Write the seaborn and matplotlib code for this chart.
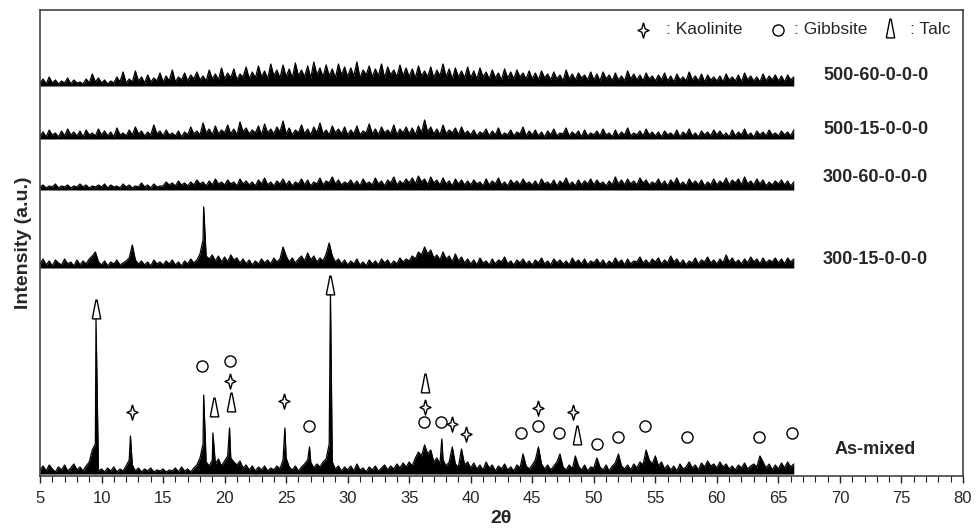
import numpy as np
import pandas as pd
import matplotlib
matplotlib.use("Agg")
import matplotlib.pyplot as plt
import seaborn as sns

# ---------------------------------------------------------------- data
# Step-scan intensities (a.u., above each pattern's own baseline),
# 0.25 deg steps starting at 2theta = 5 deg, one row per 5 deg block.
SCAN_START, SCAN_STEP = 5.0, 0.25

as_mixed = [
    4, 8, 3, 9, 5, 2, 7, 4, 9, 3, 6, 10, 4, 7, 3, 8, 12, 24, 30, 3,
    5, 2, 6, 3, 7, 2, 5, 3, 8, 14, 9, 3, 6, 2, 5, 3, 6, 2, 4, 3,
    5, 2, 4, 3, 6, 2, 7, 3, 5, 2, 6, 9, 16, 30, 12, 8, 14, 10, 15, 8,
    13, 18, 16, 12, 9, 13, 6, 9, 4, 8, 3, 7, 4, 8, 3, 6, 4, 8, 5, 14,
    16, 7, 4, 8, 3, 7, 10, 14, 12, 6, 10, 7, 12, 15, 30, 12, 5, 8, 3, 7,
    4, 8, 3, 10, 4, 6, 2, 7, 4, 8, 3, 6, 9, 4, 8, 5, 10, 6, 11, 7,
    12, 8, 16, 22, 18, 29, 20, 24, 12, 16, 10, 14, 8, 12, 27, 10, 7, 25, 9, 12,
    6, 11, 5, 9, 4, 12, 6, 9, 3, 8, 5, 10, 4, 7, 3, 9, 6, 20, 8, 5,
    9, 14, 27, 10, 5, 9, 4, 8, 12, 20, 7, 4, 9, 5, 18, 8, 4, 9, 3, 7,
    6, 16, 7, 4, 9, 3, 8, 11, 20, 8, 5, 9, 4, 10, 6, 12, 9, 24, 14, 10,
    18, 8, 12, 5, 9, 4, 8, 3, 10, 5, 7, 12, 6, 9, 4, 11, 7, 13, 8, 10,
    6, 12, 7, 10, 5, 8, 4, 9, 6, 11, 5, 8, 10, 7, 18, 12, 6, 10, 4, 9,
    5, 11, 6, 12, 7, 10,
]
as_mixed_peak_pos = [9.55, 12.35, 18.3, 19.05, 20.4, 24.9, 26.9, 28.6, 37.65]
as_mixed_peak_int = [155, 38, 79, 41, 46, 46, 27, 181, 35]

s300_15 = [
    4, 9, 3, 7, 2, 8, 5, 3, 9, 4, 6, 2, 8, 3, 7, 4, 9, 12, 16, 6,
    3, 7, 2, 6, 4, 8, 3, 5, 7, 10, 23, 8, 4, 7, 3, 6, 2, 8, 4, 6,
    3, 7, 4, 8, 3, 6, 2, 7, 4, 9, 5, 8, 14, 28, 12, 9, 13, 7, 12, 6,
    11, 6, 13, 8, 10, 5, 9, 4, 8, 3, 7, 4, 9, 5, 8, 4, 10, 6, 9, 21,
    12, 6, 10, 5, 9, 12, 7, 15, 8, 12, 6, 10, 7, 14, 25, 12, 6, 9, 4, 8,
    3, 7, 4, 9, 3, 6, 2, 8, 4, 7, 3, 9, 5, 8, 3, 7, 4, 10, 6, 9,
    7, 12, 9, 16, 13, 21, 14, 18, 10, 13, 8, 16, 9, 12, 6, 14, 7, 11, 5, 9,
    4, 8, 3, 10, 5, 7, 3, 9, 4, 8, 6, 11, 4, 7, 3, 8, 5, 9, 4, 7,
    3, 8, 5, 10, 4, 7, 3, 9, 5, 8, 4, 7, 3, 10, 5, 8, 4, 9, 3, 7,
    5, 9, 4, 8, 3, 7, 4, 10, 5, 8, 3, 9, 4, 7, 6, 11, 5, 8, 4, 9,
    6, 10, 4, 8, 5, 12, 6, 9, 4, 8, 3, 7, 5, 10, 4, 8, 6, 11, 5, 8,
    4, 9, 5, 13, 6, 10, 5, 8, 4, 9, 5, 11, 6, 9, 4, 10, 5, 8, 6, 10,
    5, 9, 4, 10, 6, 9,
]
s300_15_peak_pos = [18.3]
s300_15_peak_int = [61]

s300_60 = [
    3, 5, 2, 4, 3, 6, 2, 4, 3, 5, 2, 4, 3, 6, 3, 5, 2, 4, 3, 5,
    3, 6, 2, 5, 3, 4, 2, 6, 3, 5, 2, 4, 3, 7, 3, 5, 2, 6, 3, 4,
    4, 8, 5, 7, 4, 9, 5, 7, 4, 8, 5, 10, 6, 8, 4, 9, 5, 11, 6, 8,
    5, 10, 6, 8, 4, 11, 6, 9, 5, 8, 4, 10, 6, 12, 5, 8, 4, 9, 6, 11,
    5, 9, 4, 8, 6, 11, 5, 10, 4, 8, 6, 12, 5, 9, 7, 13, 6, 10, 5, 8,
    6, 10, 5, 9, 4, 11, 6, 8, 5, 12, 6, 9, 4, 10, 7, 13, 5, 9, 6, 11,
    7, 12, 6, 14, 8, 11, 5, 13, 7, 10, 5, 12, 6, 9, 4, 11, 6, 10, 5, 9,
    5, 10, 6, 8, 4, 11, 5, 9, 6, 12, 5, 8, 4, 10, 6, 9, 5, 11, 6, 8,
    5, 9, 4, 11, 6, 8, 5, 10, 4, 9, 6, 12, 5, 8, 4, 10, 5, 9, 6, 11,
    5, 10, 6, 8, 4, 9, 5, 13, 6, 10, 5, 11, 6, 9, 5, 12, 7, 10, 5, 8,
    6, 11, 5, 9, 4, 10, 6, 12, 5, 8, 4, 11, 6, 9, 5, 10, 4, 8, 5, 11,
    5, 9, 6, 12, 5, 10, 7, 11, 5, 13, 6, 9, 5, 11, 6, 10, 4, 8, 5, 9,
    6, 10, 5, 9, 4, 8,
]

s500_15 = [
    3, 7, 2, 9, 4, 6, 2, 8, 3, 10, 4, 7, 3, 8, 2, 9, 4, 6, 3, 10,
    4, 8, 3, 7, 2, 11, 4, 6, 3, 9, 4, 12, 5, 8, 3, 7, 4, 14, 5, 8,
    3, 9, 4, 6, 3, 8, 2, 7, 4, 12, 5, 8, 4, 16, 6, 10, 4, 13, 5, 9,
    6, 14, 5, 10, 4, 17, 7, 11, 5, 9, 6, 13, 4, 15, 6, 10, 5, 12, 7, 18,
    5, 11, 4, 9, 6, 14, 5, 10, 4, 12, 6, 16, 5, 9, 4, 13, 6, 10, 5, 12,
    4, 9, 5, 13, 4, 8, 6, 15, 5, 10, 4, 12, 6, 9, 5, 14, 4, 10, 6, 12,
    5, 11, 4, 13, 6, 19, 7, 12, 5, 10, 4, 14, 5, 9, 6, 11, 4, 12, 5, 8,
    4, 9, 3, 7, 5, 10, 3, 8, 4, 11, 3, 6, 4, 9, 3, 7, 5, 12, 3, 8,
    4, 9, 3, 7, 2, 8, 4, 10, 3, 6, 5, 11, 3, 7, 4, 8, 2, 9, 3, 6,
    4, 8, 3, 10, 4, 6, 2, 9, 3, 7, 4, 11, 3, 6, 4, 8, 3, 10, 4, 7,
    3, 7, 2, 8, 4, 6, 3, 9, 2, 7, 4, 10, 3, 6, 2, 8, 4, 7, 3, 9,
    4, 8, 3, 6, 2, 9, 3, 7, 4, 10, 3, 6, 2, 8, 4, 7, 3, 9, 4, 6,
    3, 8, 4, 7, 3, 9,
]

s500_60 = [
    3, 7, 2, 9, 3, 6, 2, 5, 3, 8, 2, 6, 3, 4, 2, 7, 3, 12, 4, 8,
    3, 6, 2, 5, 3, 9, 4, 14, 3, 7, 4, 15, 5, 9, 3, 11, 4, 8, 5, 13,
    4, 10, 5, 16, 4, 9, 6, 13, 5, 11, 7, 14, 6, 10, 5, 16, 7, 12, 6, 18,
    7, 13, 8, 17, 6, 12, 9, 19, 7, 14, 8, 20, 9, 15, 7, 22, 10, 16, 8, 21,
    9, 17, 8, 23, 10, 16, 9, 20, 8, 24, 11, 18, 9, 21, 10, 17, 8, 22, 11, 19,
    9, 18, 10, 24, 8, 16, 11, 20, 9, 17, 10, 22, 8, 19, 11, 16, 9, 21, 10, 18,
    9, 17, 8, 20, 10, 15, 9, 19, 8, 16, 10, 22, 9, 17, 7, 18, 9, 15, 8, 19,
    8, 15, 7, 18, 9, 14, 7, 16, 8, 13, 6, 17, 8, 14, 7, 16, 9, 13, 7, 15,
    7, 13, 6, 15, 8, 12, 6, 14, 7, 11, 5, 16, 7, 12, 6, 13, 8, 11, 6, 14,
    6, 12, 5, 14, 7, 11, 5, 13, 6, 10, 5, 15, 7, 12, 6, 11, 5, 13, 7, 10,
    5, 11, 6, 13, 5, 10, 4, 12, 6, 9, 5, 14, 6, 10, 5, 12, 4, 11, 6, 9,
    5, 10, 4, 12, 6, 9, 5, 11, 4, 13, 6, 10, 5, 9, 4, 12, 5, 10, 6, 11,
    5, 10, 4, 11, 6, 9,
]

sample_names = ["As-mixed", "300-15-0-0-0", "300-60-0-0-0",
                "500-15-0-0-0", "500-60-0-0-0"]
sample_scans = [as_mixed, s300_15, s300_60, s500_15, s500_60]
sample_peaks = [(as_mixed_peak_pos, as_mixed_peak_int),
                (s300_15_peak_pos, s300_15_peak_int),
                ([], []), ([], []), ([], [])]

# Phase reflections marked above the as-mixed pattern (2theta, height)
kaolinite_pos = [12.5, 20.45, 24.85, 36.3, 38.5, 39.6, 45.45, 48.35]
kaolinite_h = [64, 95, 75, 69, 52, 42, 68, 64]
gibbsite_pos = [18.2, 20.4, 26.85, 36.2, 37.6, 44.1, 45.45, 47.2,
                50.3, 52.0, 54.2, 57.6, 63.4, 66.1]
gibbsite_h = [110, 115, 50, 54, 54, 43, 50, 43, 32, 39, 50, 39, 39, 43]
talc_pos = [9.55, 19.1, 20.5, 28.6, 36.3, 48.6]
talc_h = [167, 69, 74, 191, 93, 41]

x_ticks = list(range(5, 81, 5))

# ---------------------------------------------------------------- layout
stack_offsets = [2, 208, 286, 337, 390]     # vertical shift of each pattern
label_y = [26, 217, 299, 346, 401]
label_x = 72.9

rows = []
for name, scan, (ppos, pint), off in zip(sample_names, sample_scans,
                                         sample_peaks, stack_offsets):
    tt = SCAN_START + SCAN_STEP * np.arange(len(scan))
    x = np.concatenate([tt, np.asarray(ppos, float)])
    y = np.concatenate([np.asarray(scan, float), np.asarray(pint, float)])
    order = np.argsort(x, kind="stable")
    rows.append(pd.DataFrame({"two_theta": x[order],
                              "intensity": y[order] + off,
                              "baseline": off,
                              "sample": name}))
df = pd.concat(rows, ignore_index=True)

sns.set_theme(style="ticks")
plt.rcParams["font.family"] = ["Liberation Sans", "DejaVu Sans"]

fig = plt.figure(figsize=(9.79, 5.30), dpi=100)
ax = fig.add_axes([40 / 979, 54 / 530, 923 / 979, 466 / 530])

# dense counting-noise band under each trace
for name, grp in df.groupby("sample", sort=False):
    ax.fill_between(grp["two_theta"], grp["baseline"], grp["intensity"],
                    color="black", linewidth=0)

sns.lineplot(data=df, x="two_theta", y="intensity", units="sample",
             estimator=None, sort=False, color="black", linewidth=0.9,
             ax=ax, legend=False)

# marker shapes
star = [(0, 1), (0.22, 0.22), (0.72, 0), (0.22, -0.22), (0, -1),
        (-0.22, -0.22), (-0.72, 0), (-0.22, 0.22), (0, 1)]
talc_tri = [(-0.45, -1), (0.45, -1), (0.06, 1), (-0.06, 1), (-0.45, -1)]

mk = dict(linestyle="none", markerfacecolor="white",
          markeredgecolor="black", markeredgewidth=1.0)
ax.plot(kaolinite_pos, kaolinite_h, marker=star, markersize=11, **mk)
ax.plot(gibbsite_pos, gibbsite_h, marker="o", markersize=8, **mk)
ax.plot(talc_pos, talc_h, marker=talc_tri, markersize=13.5, **mk)

# key for the phase symbols
ax.plot([54.0], [446], marker=star, markersize=11, **mk)
ax.text(55.9, 446, ": Kaolinite", fontsize=12.5, va="center", ha="left")
ax.plot([65.0], [446], marker="o", markersize=8, **mk)
ax.text(66.3, 446, ": Gibbsite", fontsize=12.5, va="center", ha="left")
ax.plot([74.1], [448], marker=talc_tri, markersize=13.5, **mk)
ax.text(75.7, 446, ": Talc", fontsize=12.5, va="center", ha="left")

for name, ly in zip(sample_names, label_y):
    ax.text(label_x, ly, name, fontsize=13, fontweight="bold",
            ha="center", va="center")

ax.set_xlim(5, 80)
ax.set_ylim(0, 466)
ax.set_xticks(x_ticks)
ax.set_xticks(np.arange(5, 81, 1), minor=True)
ax.set_yticks([])
ax.tick_params(axis="x", which="major", direction="out", length=5,
               width=1, labelsize=12, pad=6, color="#222222")
ax.tick_params(axis="x", which="minor", direction="out", length=4,
               width=0.8, color="#222222")
for sp in ax.spines.values():
    sp.set_visible(True)
    sp.set_color("#333333")
    sp.set_linewidth(1.1)

ax.set_xlabel("2θ", fontsize=14, fontweight="bold", labelpad=3)
ax.set_ylabel("Intensity (a.u.)", fontsize=14, fontweight="bold", labelpad=6)

fig.savefig("out.png", dpi=100)
